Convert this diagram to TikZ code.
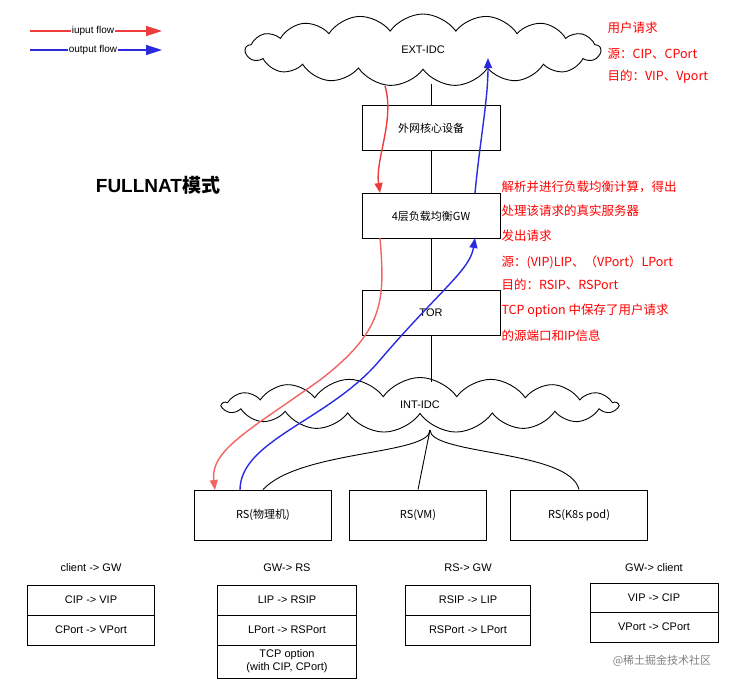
\documentclass[tikz,border=0pt]{standalone}
\usepackage{fontspec}
\setmainfont{Liberation Sans}
\newfontfamily\cjk{Noto Sans CJK SC}
\usetikzlibrary{shapes.symbols,arrows.meta}
\definecolor{fr}{HTML}{EE3B3B}
\definecolor{fr2}{HTML}{F26464}
\definecolor{fb}{HTML}{2A2AE0}
\begin{document}
\begin{tikzpicture}[x=1pt,y=-1pt,
  box/.style={draw,line width=0.9pt,minimum width=138pt,minimum height=45pt,font=\cjk\fontsize{11}{13}\selectfont},
  rs/.style={draw,line width=0.9pt,minimum width=137pt,minimum height=50pt,font=\cjk\fontsize{11}{13}\selectfont},
  cl/.style={cloud,draw,line width=0.9pt,cloud puffs=17,cloud puff arc=110,aspect=5,inner sep=0pt,font=\fontsize{11}{13}\selectfont},
  cell/.style={draw,line width=0.7pt,minimum width=127pt,minimum height=30pt,inner sep=1pt,font=\fontsize{11}{13}\selectfont,align=center},
  hd/.style={font=\fontsize{11}{13}\selectfont},
  note/.style={red,anchor=west,font=\cjk\fontsize{12.5}{14}\selectfont},
  tip/.style={-{Triangle[length=10pt,width=8pt]}},
  inf/.style={fr,line width=1.4pt,tip},
  inf2/.style={fr2,line width=1.4pt,tip},
  outf/.style={fb,line width=1.4pt,tip}]
\useasboundingbox (0,0) rectangle (752,689);
% legend
\coordinate (l1a) at (30,31); \coordinate (l1b) at (162,31);
\coordinate (l2a) at (30,50); \coordinate (l2b) at (162,50);
\draw[inf,-{Triangle[length=16pt,width=10pt]}] (l1a) -- (l1b);
\draw[outf,-{Triangle[length=16pt,width=10pt]}] (l2a) -- (l2b);
\node[fill=white,inner sep=1pt,font=\fontsize{10}{12}\selectfont] (lt1) at (93,31) {iuput flow};
\node[fill=white,inner sep=1pt,font=\fontsize{10}{12}\selectfont] (lt2) at (93,50) {output flow};
% nodes
\node[cl,minimum width=355pt,minimum height=72pt] (ext) at (423,50) {EXT-IDC};
\node[box] (core) at (431,128) {外网核心设备};
\node[box] (gw) at (431,216) {4层负载均衡GW};
\node[box,font=\fontsize{11}{13}\selectfont] (tor) at (431,313) {TOR};
\node[cl,minimum width=395pt,minimum height=55pt] (int) at (420,405) {INT-IDC};
\node[rs] (rs1) at (263,515) {RS(物理机)};
\node[rs] (rs2) at (418,515) {RS(VM)};
\node[rs] (rs3) at (579,515) {RS(K8s pod)};
\node[font=\bfseries\fontsize{19}{22}\selectfont] (title) at (158,185) {FULLNAT{\cjk\bfseries 模式}};
% black links
\draw[line width=0.9pt] (431,84) -- (core.north);
\draw[line width=0.9pt] (core.south) -- (gw.north);
\draw[line width=0.9pt] (gw.south) -- (tor.north);
\draw[line width=0.9pt] (tor.south) -- (431,382);
\coordinate (hub) at (430,430);
\draw[line width=0.9pt] (hub) .. controls (430,455) and (300,450) .. (rs1.north);
\draw[line width=0.9pt] (hub) -- (rs2.north);
\draw[line width=0.9pt] (hub) .. controls (430,455) and (570,450) .. (rs3.north);
% flows
\draw[inf] (385,86) .. controls (395,120) and (375,160) .. (380,193);
\draw[inf2] (380,238) .. controls (385,300) and (385,330) .. (320,380) .. controls (250,430) and (210,450) .. (215,490);
\draw[outf] (240,490) .. controls (240,440) and (330,420) .. (380,360) .. controls (440,290) and (470,270) .. (475,238);
\draw[outf] (475,193) .. controls (480,140) and (488,100) .. (488,58);
% notes
\node[note] (n1) at (604,28) {用户请求};
\node[note] (n2) at (604,54) {源：CIP、CPort};
\node[note] (n3) at (604,77) {目的：VIP、Vport};
\node[note] (m1) at (498,187) {解析并进行负载均衡计算，得出};
\node[note] (m2) at (498,211) {处理该请求的真实服务器};
\node[note] (m3) at (498,236) {发出请求};
\node[note] (m4) at (498,262) {源：(VIP)LIP、（VPort）LPort};
\node[note] (m5) at (498,285) {目的：RSIP、RSPort};
\node[note] (m6) at (498,311) {TCP option 中保存了用户请求};
\node[note] (m7) at (498,336) {的源端口和IP信息};
% tables
\node[hd] (h1) at (91,568) {client -> GW};
\node[cell] (a1) at (91,600) {CIP -> VIP};
\node[cell] (a2) at (91,630) {CPort -> VPort};
\node[hd] (h2) at (287,568) {GW-> RS};
\node[cell,minimum width=139pt] (b1) at (287,600) {LIP -> RSIP};
\node[cell,minimum width=139pt] (b2) at (287,630) {LPort -> RSPort};
\node[cell,minimum width=139pt,minimum height=33pt] (b3) at (287,661.5) {TCP option\\(with CIP, CPort)};
\node[hd] (h3) at (468,568) {RS-> GW};
\node[cell,minimum width=125pt] (c1) at (468,600) {RSIP -> LIP};
\node[cell,minimum width=125pt] (c2) at (468,630) {RSPort -> LPort};
\node[hd] (h4) at (654,568) {GW-> client};
\node[cell,minimum width=128pt,minimum height=29pt] (d1) at (654,597.5) {VIP -> CIP};
\node[cell,minimum width=128pt] (d2) at (654,627) {VPort -> CPort};
\node[gray,font=\cjk\fontsize{11}{13}\selectfont] (wm) at (662,661) {@稀土掘金技术社区};
\end{tikzpicture}
\end{document}
